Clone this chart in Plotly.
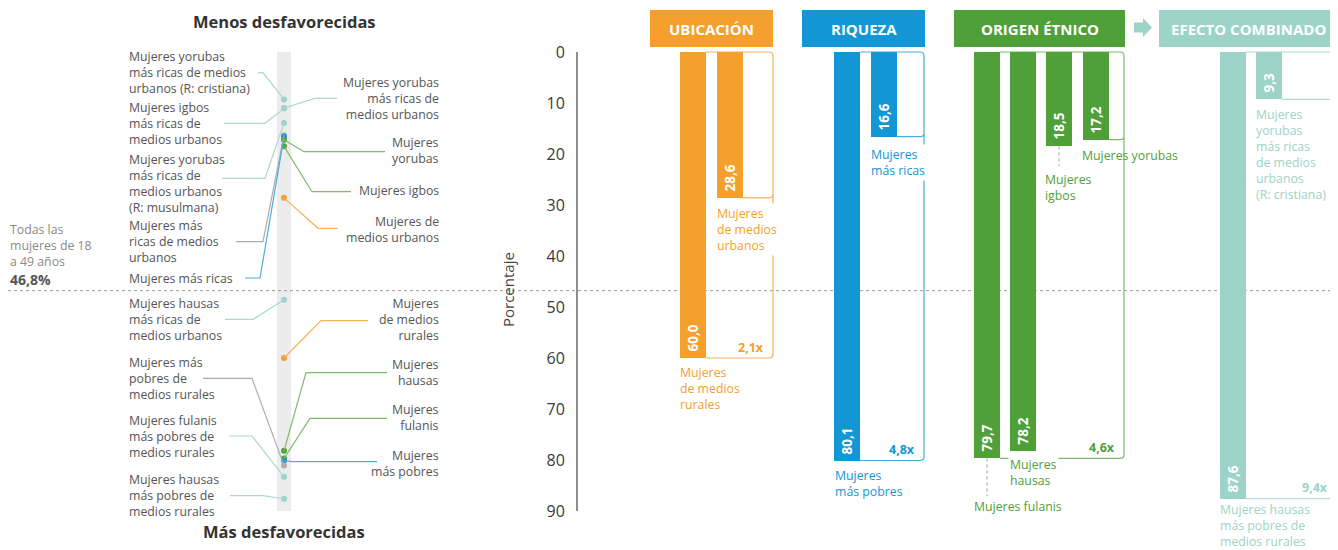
import plotly.graph_objects as go

# ------------------------- data -------------------------
ubic_labels = ["Mujeres de medios rurales", "Mujeres de medios urbanos"]
ubic_values = [60.0, 28.6]
riq_labels = ["Mujeres más pobres", "Mujeres más ricas"]
riq_values = [80.1, 16.6]
etn_labels = ["Mujeres fulanis", "Mujeres hausas", "Mujeres igbos", "Mujeres yorubas"]
etn_values = [79.7, 78.2, 18.5, 17.2]
comb_labels = ["Mujeres hausas más pobres de medios rurales",
               "Mujeres yorubas más ricas de medios urbanos (R: cristiana)"]
comb_values = [87.6, 9.3]
group_titles = ["UBICACIÓN", "RIQUEZA", "ORIGEN ÉTNICO", "EFECTO COMBINADO"]
group_ratios = ["2,1x", "4,8x", "4,6x", "9,4x"]
national_avg = 46.8
y_ticks = [0, 10, 20, 30, 40, 50, 60, 70, 80, 90]

strip_labels = [
    "Mujeres yorubas más ricas de medios urbanos (R: cristiana)",
    "Mujeres yorubas más ricas de medios urbanos",
    "Mujeres igbos más ricas de medios urbanos",
    "Mujeres yorubas más ricas de medios urbanos (R: musulmana)",
    "Mujeres más ricas de medios urbanos",
    "Mujeres más ricas",
    "Mujeres yorubas",
    "Mujeres igbos",
    "Mujeres de medios urbanos",
    "Mujeres hausas más ricas de medios urbanos",
    "Mujeres de medios rurales",
    "Mujeres hausas",
    "Mujeres fulanis",
    "Mujeres más pobres",
    "Mujeres más pobres de medios rurales",
    "Mujeres fulanis más pobres de medios rurales",
    "Mujeres hausas más pobres de medios rurales",
]
strip_values = [9.3, 11.0, 11.1, 13.9, 16.3, 16.6, 17.2, 18.5, 28.6, 48.6,
                60.0, 78.2, 79.7, 80.1, 81.1, 83.3, 87.6]
strip_groups = ["comb", "comb", "comb", "comb", "gray", "riq", "etn", "etn", "ubic",
                "comb", "ubic", "etn", "etn", "riq", "gray", "comb", "comb"]

# ------------------------- style -------------------------
W, H = 1338, 550
OFF = 8                       # page body margin
PX0, PXU = 52.0, 5.1          # page pixel of value 0, pixels per unit


def v(py):
    return (py - PX0) / PXU


FONT = "Open Sans"
TXT = "#555555"
COL = {"ubic": "#F59F2D", "riq": "#1397D4", "etn": "#50A03A", "comb": "#9DD3C8", "gray": "#ADADAD"}
LCOL = {"ubic": "#F7B25C", "riq": "#4AAEDD", "etn": "#7DBA6B", "comb": "#A9D9CF", "gray": "#ADADAD"}
LS = 12.3

fig = go.Figure()
shapes = []
ann = []

# gray strip + average line
shapes.append(dict(type="rect", xref="x", yref="y", x0=277, x1=291, y0=0, y1=90,
                   fillcolor="#ECECEC", line=dict(width=0), layer="below"))
shapes.append(dict(type="line", xref="x", yref="y", x0=8, x1=W, y0=national_avg, y1=national_avg,
                   line=dict(color="#9a9a9a", width=1, dash="dot"), layer="below"))
# y axis line
shapes.append(dict(type="line", xref="x", yref="y", x0=577, x1=577, y0=0, y1=90,
                   line=dict(color="#444444", width=1.2)))

# ------------------------- bar groups -------------------------
groups = [
    dict(key="ubic", labels=ubic_labels, values=ubic_values, x0=680, step=37, R=773, hx=(650, 773)),
    dict(key="riq", labels=riq_labels, values=riq_values, x0=834, step=37, R=924, hx=(802, 925)),
    dict(key="etn", labels=etn_labels, values=etn_values, x0=974, step=36.2, R=1124, hx=(954, 1125)),
    dict(key="comb", labels=comb_labels, values=comb_values, x0=1220, step=36, R=1337, hx=(1159, 1345)),
]
BW = 26
rx, ry = 4, 4 / PXU
for gi, g in enumerate(groups):
    n = len(g["values"])
    centers = [g["x0"] + BW / 2 + i * g["step"] for i in range(n)]
    c = COL[g["key"]]
    fig.add_trace(go.Bar(
        x=centers, y=g["values"], width=BW, marker=dict(color=c, line=dict(width=0)),
        text=["\u00a0" + f"{val:.1f}".replace(".", ",") for val in g["values"]],
        textposition="inside", insidetextanchor="end", textangle=-90,
        textfont=dict(family=FONT, size=13.5, color="white", weight="bold"),
        hoverinfo="skip", showlegend=False, cliponaxis=False))
    # header
    shapes.append(dict(type="rect", xref="x", yref="y", x0=g["hx"][0], x1=g["hx"][1],
                       y0=v(10), y1=v(47), fillcolor=c, line=dict(width=0)))
    ann.append(dict(x=(g["hx"][0] + min(g["hx"][1], W)) / 2, y=v(28.5), text=group_titles[gi],
                    showarrow=False, font=dict(family=FONT, size=15, color="white", weight="bold")))
    # bracket box
    xl = centers[0] + BW / 2
    R = g["R"]
    vmax = max(g["values"])
    vlast = g["values"][-1]
    xr2 = centers[-1] + BW / 2
    path = (f"M {xl},0 L {R - rx},0 Q {R},0 {R},{ry} L {R},{vmax - ry} "
            f"Q {R},{vmax} {R - rx},{vmax} L {xl},{vmax} "
            f"M {xr2},{vlast} L {R - rx},{vlast} Q {R},{vlast} {R},{vlast - ry}")
    shapes.append(dict(type="path", xref="x", yref="y", path=path,
                       line=dict(color=LCOL[g["key"]], width=1.2), layer="below"))
    # ratio label
    ann.append(dict(x=R - 7, y=vmax - 11 / PXU, text=group_ratios[gi], xanchor="right",
                    showarrow=False, font=dict(family=FONT, size=12.5, color=c, weight="bold")))

# arrow between ORIGEN ÉTNICO and EFECTO COMBINADO
shapes.append(dict(type="path", xref="x", yref="y",
                   path=(f"M 1134,{v(22.5)} L 1143,{v(22.5)} L 1143,{v(18)} L 1152,{v(27.5)} "
                         f"L 1143,{v(37)} L 1143,{v(32.5)} L 1134,{v(32.5)} Z"),
                   fillcolor=COL["comb"], line=dict(width=0)))


def blabel(text, key, x, pyc, bg=False):
    ann.append(dict(x=x, y=v(pyc), text=text, xanchor="left", yanchor="middle", align="left",
                    showarrow=False, bgcolor="white" if bg else "rgba(0,0,0,0)", borderpad=1,
                    font=dict(family=FONT, size=LS, color=COL[key])))


blabel("Mujeres<br>de medios<br>urbanos", "ubic", 715, 229, bg=True)
blabel("Mujeres<br>de medios<br>rurales", "ubic", 678, 388)
blabel("Mujeres<br>más ricas", "riq", 869, 162, bg=True)
blabel("Mujeres<br>más pobres", "riq", 833, 483)
blabel("Mujeres<br>igbos", "etn", 1043, 187)
blabel("Mujeres yorubas", "etn", 1080, 155)
blabel("Mujeres<br>hausas", "etn", 1008, 472, bg=True)
blabel("Mujeres fulanis", "etn", 972, 506)
blabel("Mujeres<br>yorubas<br>más ricas<br>de medios<br>urbanos<br>(R: cristiana)", "comb", 1254, 154)
blabel("Mujeres hausas<br>más pobres de<br>medios rurales", "comb", 1218, 525)
# dotted leaders
for xx, ya, yb in [(1059, 18.5, v(166)), (987, 79.7, v(496))]:
    shapes.append(dict(type="line", xref="x", yref="y", x0=xx, x1=xx, y0=ya, y1=yb,
                       line=dict(color="#9a9a9a", width=1, dash="dot")))

# ------------------------- left strip -------------------------
STRIP_X = 284
# label layout: text, side, text center py, line py, line start x, elbow x
strip_layout = [
    ("Mujeres yorubas<br>más ricas de medios<br>urbanos (R: cristiana)", "L", 72.5, 72.7, 258, 263),
    ("Mujeres yorubas<br>más ricas de<br>medios urbanos", "R", 98.5, 98.3, 337, 315),
    ("Mujeres igbos<br>más ricas de<br>medios urbanos", "L", 123, 123.3, 224, 265),
    ("Mujeres yorubas<br>más ricas de<br>medios urbanos<br>(R: musulmana)", "L", 183, 178.3, 222, 265),
    ("Mujeres más<br>ricas de medios<br>urbanos", "L", 241.5, 241.7, 236, 263),
    ("Mujeres más ricas", "L", 278, 278, 245, 260),
    ("Mujeres<br>yorubas", "R", 150.5, 151.7, 385, 304),
    ("Mujeres igbos", "R", 190, 191.7, 351, 312),
    ("Mujeres de<br>medios urbanos", "R", 229.5, 228.3, 338, 318),
    ("Mujeres hausas<br>más ricas de<br>medios urbanos", "L", 319, 319.3, 225, 253),
    ("Mujeres<br>de medios<br>rurales", "R", 319, 320.7, 368, 321),
    ("Mujeres<br>hausas", "R", 372.5, 372.7, 387, 306),
    ("Mujeres<br>fulanis", "R", 417.7, 418.3, 387, 310),
    ("Mujeres<br>más pobres", "R", 463.7, 461.7, 377, 292),
    ("Mujeres más<br>pobres de<br>medios rurales", "L", 378, 378.3, 203, 252),
    ("Mujeres fulanis<br>más pobres de<br>medios rurales", "L", 436, 436, 229, 252),
    ("Mujeres hausas<br>más pobres de<br>medios rurales", "L", 495.5, 495.7, 230, 263),
]
for i, (txt, side, pyc, pyl, xs, xe) in enumerate(strip_layout):
    key = strip_groups[i]
    if side == "L":
        ann.append(dict(x=127, y=v(pyc), text=txt, xanchor="left", yanchor="middle", align="left",
                        showarrow=False, font=dict(family=FONT, size=LS, color=TXT)))
    else:
        ann.append(dict(x=441, y=v(pyc), text=txt, xanchor="right", yanchor="middle", align="right",
                        showarrow=False, font=dict(family=FONT, size=LS, color=TXT)))
    path = f"M {xs},{v(pyl)} L {xe},{v(pyl)} L {STRIP_X},{strip_values[i]}"
    shapes.append(dict(type="path", xref="x", yref="y", path=path,
                       line=dict(color=LCOL[key], width=1.2)))

fig.add_trace(go.Scatter(
    x=[STRIP_X] * len(strip_values), y=strip_values, mode="markers",
    marker=dict(size=6, color=[COL[k] for k in strip_groups], line=dict(width=0)),
    hoverinfo="skip", showlegend=False, cliponaxis=False))

# titles of strip
ann.append(dict(x=284, y=v(21.5), text="Menos desfavorecidas", showarrow=False,
                font=dict(family=FONT, size=16.5, color="#333333", weight="bold")))
ann.append(dict(x=284, y=v(531), text="Más desfavorecidas", showarrow=False,
                font=dict(family=FONT, size=16.5, color="#333333", weight="bold")))
# national average label
ann.append(dict(x=8, y=v(245), text="Todas las<br>mujeres de 18<br>a 49 años", xanchor="left",
                yanchor="middle", align="left", showarrow=False,
                font=dict(family=FONT, size=LS, color="#8a8a8a")))
ann.append(dict(x=8, y=v(279), text=f"{national_avg:.1f}%".replace(".", ","), xanchor="left",
                yanchor="middle", showarrow=False,
                font=dict(family=FONT, size=14, color="#555555", weight="bold")))
# axis title
ann.append(dict(x=508, y=v(290), text="Porcentaje", textangle=-90, showarrow=False,
                font=dict(family=FONT, size=15, color="#444444")))

fig.update_layout(
    width=W - OFF, height=H - OFF, margin=dict(l=0, r=0, t=0, b=0),
    paper_bgcolor="white", plot_bgcolor="white",
    barmode="overlay", bargap=0,
    shapes=shapes, annotations=ann, showlegend=False,
    xaxis=dict(range=[OFF, W], visible=False, fixedrange=True),
    yaxis=dict(range=[v(H), v(OFF)], autorange=False, anchor="free", position=(577 - OFF) / (W - OFF),
               tickvals=y_ticks, ticktext=[str(t) for t in y_ticks],
               showgrid=False, zeroline=False, showline=False,
               ticks="outside", ticklen=9, tickcolor="rgba(0,0,0,0)",
               tickfont=dict(family=FONT, size=16, color="#3a3a3a"), automargin=False,
               fixedrange=True),
)

fig.write_html("out.html")
